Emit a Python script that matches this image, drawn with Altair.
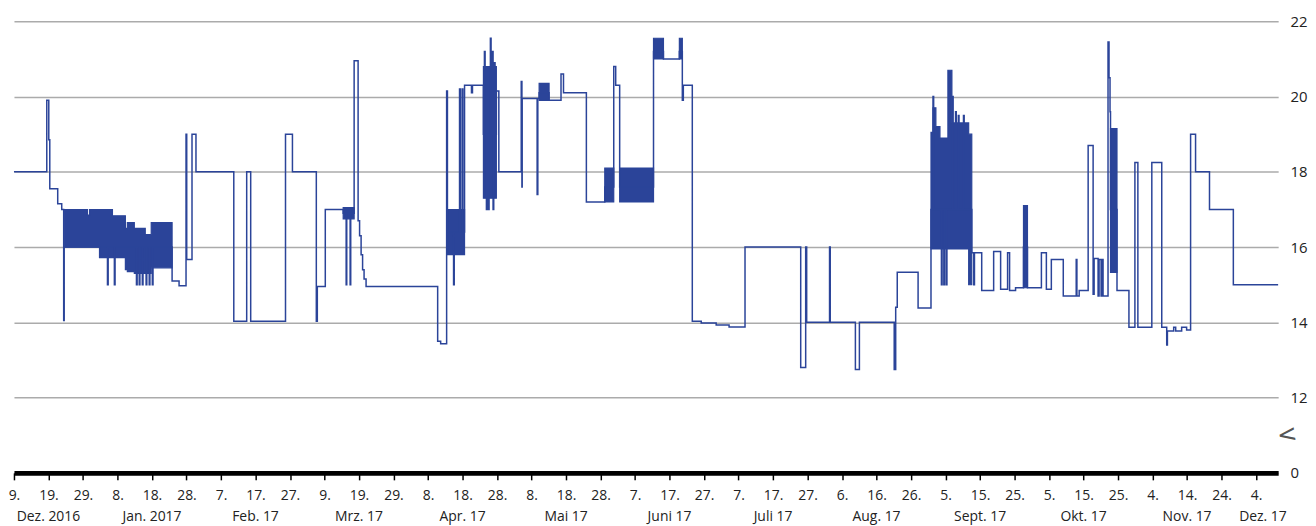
import altair as alt
import pandas as pd

START = pd.Timestamp("2016-12-09T00:00:00")
END_DAY = 366.4  # days after START where the plot ends

# Step line: (days after 9 Dec 2016, value)
line_days = [
    0, 9.51, 10.09, 10.38, 12.68, 13.84, 14.41, 14.56,
    27.1, 27.3, 29.1, 29.3, 35.5, 35.7, 36.3, 36.5, 37.2, 37.4, 38.3, 38.5, 39.2, 39.4, 40.1, 40.3,
    45.83, 47.85, 49.87, 50.07, 51.60, 52.75, 63.71, 67.45, 68.61, 78.70, 80.71, 87.63, 87.92,
    90.23, 95.42, 96.28, 96.45, 97.43, 97.6, 98.59, 99.74, 100.17, 100.61, 101.04, 101.47,
    102.05, 122.80, 123.67, 125.40, 125.63, 127.41, 127.6, 129.14, 129.35, 129.87, 130.1,
    130.59, 132.60, 132.89, 136.06, 136.35, 136.55, 136.93, 137.1, 137.50, 137.7, 138.08,
    138.28, 138.66, 138.86, 139.05, 139.23, 139.43, 139.81, 140.53, 147.02, 147.22, 147.30,
    151.63, 151.83, 152.21, 155.09, 158.55, 159.27, 165.90, 171.23, 173.83, 174.40, 175.55,
    185.36, 188.24, 192.85, 193.71, 194.00, 196.60, 199.19, 203.52, 207.26, 211.88, 228.02,
    229.46, 229.75, 236.38, 236.58, 243.87, 245.03, 255.12, 255.55, 256.0, 262.04, 265.78,
    266.36, 266.55, 268.38, 268.8, 269.0, 269.5, 269.7, 270.2, 270.4, 270.68,
    272.0, 272.2, 272.9, 273.1, 273.7, 273.9, 275.2, 275.4,
    277.60, 278.18, 278.38, 280.48, 283.94, 285.96, 287.98, 288.56, 290.29, 292.59, 293.74,
    297.78, 299.22, 300.66, 304.12, 307.87, 308.07, 308.73, 311.33, 312.77, 313.06, 314.21,
    314.50, 315.08, 315.37, 315.65, 317.09, 317.38, 317.67, 317.81, 319.69, 323.15, 324.88,
    325.74, 329.78, 332.66, 334.10, 334.30, 336.12, 336.70, 338.43, 339.87, 341.02, 342.46,
    346.50, 353.41, 366.39,
]
line_vals = [
    18.0, 19.9, 18.85, 17.55, 17.15, 17.0, 14.05, 16.0,
    15.0, 16.0, 15.0, 16.0, 15.0, 16.0, 15.0, 16.0, 15.0, 16.0, 15.0, 16.0, 15.0, 16.0, 15.0, 16.0,
    15.1, 14.97, 19.0, 15.67, 19.0, 18.0, 14.03, 18.0, 14.03, 19.0, 18.0, 14.03, 14.95,
    17.0, 16.9, 15.0, 16.9, 15.0, 16.9, 20.95, 16.7, 16.3, 15.8, 15.4, 15.15,
    14.95, 13.5, 13.43, 20.15, 16.4, 15.0, 16.4, 20.2, 16.4, 20.2, 16.4,
    20.3, 20.1, 20.3, 19.0, 21.2, 19.0, 17.0, 19.0, 17.0, 19.0, 21.55,
    19.0, 21.2, 17.0, 19.0, 20.9, 19.0, 20.15, 18.0, 20.4, 17.6, 19.95,
    17.4, 19.95, 20.1, 19.9, 20.6, 20.1, 17.2, 17.6, 20.8, 20.3, 17.6,
    21.2, 21.0, 21.2, 19.9, 20.3, 14.03, 13.98, 13.93, 13.88, 16.0, 12.8,
    16.0, 14.0, 16.0, 14.0, 12.75, 14.0, 12.75, 14.4, 15.33, 14.38, 17.0,
    20.0, 17.0, 17.0, 15.0, 17.0, 15.0, 17.0, 15.0, 17.0, 17.0,
    20.0, 17.0, 19.6, 17.0, 19.5, 17.0, 19.5, 17.0,
    15.85, 15.0, 15.85, 14.85, 15.88, 14.88, 15.85, 14.85, 14.92, 16.0, 14.92,
    15.85, 14.88, 15.67, 14.7, 15.67, 14.7, 14.85, 18.7, 14.75, 15.7, 14.7,
    15.67, 14.7, 15.67, 14.7, 21.45, 20.5, 19.6, 17.0, 14.85, 13.87, 18.25,
    13.87, 18.25, 13.87, 13.4, 13.77, 13.87, 13.77, 13.87, 13.8, 19.0, 18.0,
    17.0, 15.0, 15.0,
]

# Densely oscillating stretches, read as filled bands: (band, day, low, high);
# the last point of each band marks where it ends.
band_id = [1] * 11 + [2] * 2 + [3] * 2 + [4] * 2 + [5] * 2 + [6] * 2 + [7] * 2 + [8] * 2 \
    + [9] * 2 + [10] * 8 + [11] * 2 + [12] * 2
band_day = [14.56, 21.30, 21.90, 24.79, 28.54, 32.29, 32.86, 34.88, 38.05, 39.78, 45.83,
            95.42, 98.59, 125.63, 130.59, 136.06, 139.81, 152.21, 155.09, 171.23, 173.83,
            175.55, 185.36, 185.36, 188.24, 192.85, 193.71,
            265.78, 266.36, 267.2, 268.38, 270.68, 271.84, 276.7, 277.6,
            292.59, 293.74, 317.81, 319.69]
band_low = [16.0, 16.0, 16.0, 15.72, 15.72, 15.4, 15.35, 15.3, 15.3, 15.45, 15.45,
            16.75, 16.75, 15.8, 15.8, 17.3, 17.3, 19.9, 19.9, 17.2, 17.2,
            17.2, 17.2, 21.0, 21.0, 21.0, 21.0,
            15.95, 15.95, 15.95, 15.95, 15.95, 15.95, 15.0, 15.0,
            14.92, 14.92, 15.33, 15.33]
band_high = [17.0, 16.85, 17.0, 17.0, 16.83, 16.5, 16.65, 16.5, 16.33, 16.65, 16.65,
             17.05, 17.05, 17.0, 17.0, 20.8, 20.8, 20.35, 20.35, 18.1, 18.1,
             18.1, 18.1, 21.55, 21.55, 21.55, 21.55,
             19.05, 19.7, 19.2, 18.9, 20.7, 19.3, 19.0, 19.0,
             17.1, 17.1, 19.15, 19.15]

tick_dates = [
    "2016-12-09", "2016-12-19", "2016-12-29", "2017-01-08", "2017-01-18", "2017-01-28",
    "2017-02-07", "2017-02-17", "2017-02-27", "2017-03-09", "2017-03-19", "2017-03-29",
    "2017-04-08", "2017-04-18", "2017-04-28", "2017-05-08", "2017-05-18", "2017-05-28",
    "2017-06-07", "2017-06-17", "2017-06-27", "2017-07-07", "2017-07-17", "2017-07-27",
    "2017-08-06", "2017-08-16", "2017-08-26", "2017-09-05", "2017-09-15", "2017-09-25",
    "2017-10-05", "2017-10-15", "2017-10-25", "2017-11-04", "2017-11-14", "2017-11-24",
    "2017-12-04",
]
month_names = ["Dez. 2016", "Jan. 2017", "Feb. 17", "Mrz. 17", "Apr. 17", "Mai 17", "Juni 17",
               "Juli 17", "Aug. 17", "Sept. 17", "Okt. 17", "Nov. 17", "Dez. 17"]
month_pos = ["2016-12-19", "2017-01-18", "2017-02-17", "2017-03-19", "2017-04-18", "2017-05-18",
             "2017-06-17", "2017-07-17", "2017-08-16", "2017-09-15", "2017-10-15", "2017-11-14",
             "2017-12-06"]
y_ticks = [10, 12, 14, 16, 18, 20, 22]

BLUE = "#2b4499"
FONT = "Open Sans"
W, H = 1271, 454


def to_dt(ts):
    return alt.DateTime(year=ts.year, month=ts.month, date=ts.day,
                        hours=ts.hour, minutes=ts.minute)


line_df = pd.DataFrame({
    "t": START + pd.to_timedelta(line_days, unit="D"),
    "v": line_vals,
})
band_df = pd.DataFrame({
    "band": band_id,
    "t": START + pd.to_timedelta(band_day, unit="D"),
    "lo": band_low,
    "hi": band_high,
})
month_df = pd.DataFrame({"t": pd.to_datetime(month_pos), "label": month_names})

end_ts = START + pd.to_timedelta(END_DAY, unit="D")
x_scale = alt.Scale(domain=[to_dt(START), to_dt(end_ts)])
x_axis = alt.Axis(
    values=[to_dt(pd.Timestamp(d)) for d in tick_dates],
    format="%-d.", formatType="time", title=None, grid=False,
    domainColor="#000000", domainWidth=5, tickColor="#000000", tickWidth=1.5,
    tickSize=7, labelPadding=9, labelFlush=False, labelOverlap=False,
    labelFontSize=14,
)
y_scale = alt.Scale(domain=[10, 22], nice=False, zero=False)
y_axis = alt.Axis(
    orient="right", values=y_ticks, title=None, domain=False, ticks=False, tickSize=0,
    labelPadding=12, grid=True, gridColor="#ababab", gridWidth=1.5,
    labelExpr="datum.value == 10 ? '0' : datum.label",
)

bands = alt.Chart(band_df).mark_area(
    color=BLUE, opacity=1, interpolate="step-after", stroke=BLUE, strokeWidth=1.2
).encode(
    x=alt.X("t:T", scale=x_scale, axis=x_axis),
    y=alt.Y("lo:Q", scale=y_scale, axis=y_axis),
    y2=alt.Y2("hi"),
    detail="band:N",
)
line = alt.Chart(line_df).mark_line(
    color=BLUE, strokeWidth=1.5, interpolate="step-after"
).encode(
    x=alt.X("t:T", scale=x_scale, axis=x_axis),
    y=alt.Y("v:Q", scale=y_scale, axis=y_axis),
)
months = alt.Chart(month_df).mark_text(
    font=FONT, fontSize=14, color="#222222", align="center", baseline="alphabetic"
).encode(
    x=alt.X("t:T", scale=x_scale, axis=x_axis),
    y=alt.value(H + 48),
    text="label:N",
)
brk = alt.Chart(pd.DataFrame({"s": ["<"]})).mark_text(
    font="DejaVu Sans", fontSize=24, color="#555555", align="center", baseline="middle",
    angle=352,
).encode(
    x=alt.value(W + 9),
    y=alt.value(H - 38),
    text="s:N",
)

chart = (
    alt.layer(bands, line, months, brk)
    .properties(width=W, height=H, padding={"left": 0, "top": 5, "right": 0, "bottom": 0})
    .configure(font=FONT)
    .configure_view(stroke=None)
    .configure_axis(labelFont=FONT, labelFontSize=15, labelColor="#222222")
)

chart.save("out.html", embed_options={"renderer": "svg", "actions": False})
